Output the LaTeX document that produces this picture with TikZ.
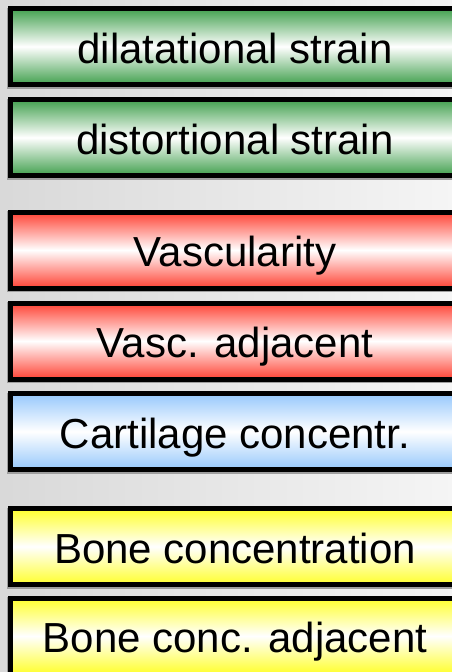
\documentclass[tikz,border=0pt]{standalone}
\usepackage{fontspec}
\setmainfont{Liberation Sans}
\definecolor{mechgreen}{RGB}{66,160,78}
\definecolor{vascred}{RGB}{255,66,52}
\definecolor{cartblue}{RGB}{150,200,252}
\definecolor{boneyellow}{RGB}{255,255,44}

\begin{document}
\begin{tikzpicture}[x=1pt, y=-1pt,
  cell/.style={draw=black, line width=5pt, minimum width=449pt, minimum height=76pt,
               inner sep=0pt, text height=33pt, text depth=0pt,
               font=\fontsize{42}{50}\selectfont,
               preaction={draw=black!38, line width=5pt,
                          transform canvas={xshift=-1.3pt, yshift=-1.8pt}}},
  mech/.style={cell, top color=mechgreen, bottom color=mechgreen, middle color=white},
  vasc/.style={cell, top color=vascred, bottom color=vascred, middle color=white},
  cart/.style={cell, top color=cartblue, bottom color=cartblue, middle color=white},
  bone/.style={cell, top color=boneyellow, bottom color=boneyellow, middle color=white}
]
  \clip (0,0) rectangle (452,672);
  \shade[left color=black!15, right color=black!4] (0,0) rectangle (452,672);

  % Mechanical stimuli
  \node[mech] (dil)  at (235,46.5)  {dilatational strain};
  \node[mech] (dist) at (235,137.5) {distortional strain};
  % Vascular and cartilage
  \node[vasc] (vas)  at (235,250)   {Vascularity};
  \node[vasc] (vadj) at (235,341)   {Vasc. adjacent};
  \node[cart] (cart) at (235,431.5) {Cartilage concentr.};
  % Bone
  \node[bone] (bone) at (235,546.5) {Bone concentration};
  \node[bone] (badj) at (235,636)   {Bone conc. adjacent};
\end{tikzpicture}
\end{document}
